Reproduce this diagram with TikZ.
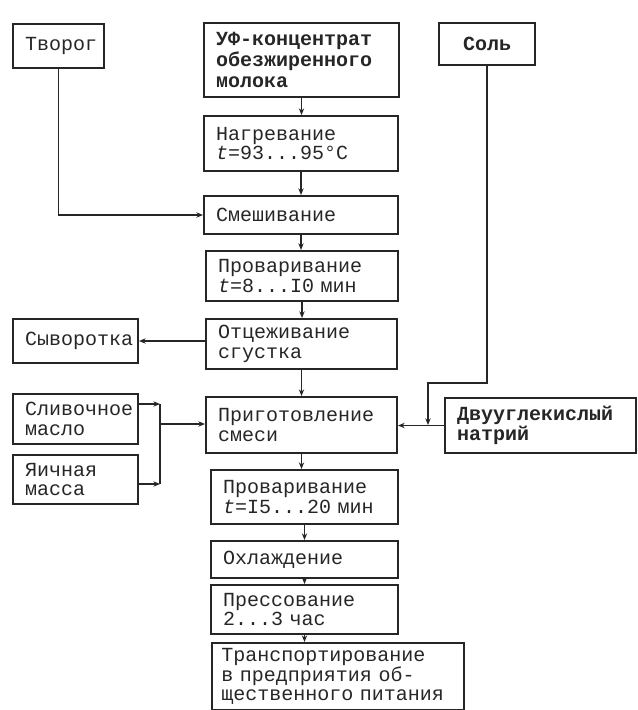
\documentclass[tikz,border=0pt]{standalone}
\usepackage{fontspec}
\usepackage{tikz}
\usetikzlibrary{arrows.meta}
\newfontfamily\tw{Liberation Mono}

\begin{document}
\begin{tikzpicture}[x=0.75pt,y=0.75pt,yscale=-1,xscale=1,
  blk/.style={draw=black!85, line width=1.5pt, anchor=north west, align=left,
    inner xsep=9pt, inner ysep=1pt, text=black!85,
    font=\tw\fontsize{15}{14.5}\selectfont},
  flw/.style={draw=black!85, line width=1pt, -{Stealth[length=5pt,width=4pt]}},
  lin/.style={draw=black!85, line width=1pt}]
\useasboundingbox (0,0) rectangle (637,710);

%Shape: Rectangle [inputs, left]
\node [blk, text width=50.25pt, minimum height=33pt] (tvorog) at (12,23) {Творог};
\node [blk, text width=75.75pt, minimum height=33pt] (syv) at (12,318) {Сыворотка};
\node [blk, text width=75.75pt, minimum height=37.5pt] (sliv) at (12,393) {Сливочное\\масло};
\node [blk, text width=75.75pt, minimum height=36.75pt] (yaich) at (12,454) {Яичная\\масса};

%Shape: Rectangle [inputs, right]
\node [blk, text width=54pt, minimum height=31.5pt, align=center, font=\tw\bfseries\fontsize{15}{14.5}\selectfont] (sol) at (438,22) {Соль};
\node [blk, text width=125.25pt, minimum height=41.25pt, font=\tw\bfseries\fontsize{15}{14.5}\selectfont] (dvu) at (444,397) {Двууглекислый\\натрий};

%Shape: Rectangle [main line]
\node [blk, text width=128.25pt, minimum height=55.5pt, font=\tw\bfseries\fontsize{15}{15.5}\selectfont] (uf) at (203,22) {УФ-концентрат\\обезжиренного\\молока};
\node [blk, text width=127.5pt, minimum height=41.25pt] (nagrev) at (203,115) {Нагревание\\\textit{t}=93...95°C};
\node [blk, text width=127.5pt, minimum height=28.5pt] (smesh) at (203,195) {Смешивание};
\node [blk, text width=126pt, minimum height=37.5pt] (provar) at (205,250) {Проваривание\\\textit{t}=8...I0 мин};
\node [blk, text width=125.25pt, minimum height=37.5pt] (otc) at (205,318) {Отцеживание\\сгустка};
\node [blk, text width=125.25pt, minimum height=42pt] (prig) at (205,396) {Приготовление\\смеси};
\node [blk, text width=122.25pt, minimum height=40.5pt] (provarb) at (210,469) {Проваривание\\\textit{t}=I5...20 мин};
\node [blk, text width=122.25pt, minimum height=27.75pt] (ohl) at (210,540) {Охлаждение};
\node [blk, text width=122.25pt, minimum height=36.75pt] (press) at (210,584) {Прессование\\2...3 час};
\node [blk, text width=175pt, inner xsep=7pt, minimum height=50.25pt] (transp) at (211,642) {Транспортирование\\в предприятия об-\\щественного питания};

%Straight Lines [main line]
\foreach \a/\b in {uf/nagrev,nagrev/smesh,smesh/provar,provar/otc,otc/prig,prig/provarb,provarb/ohl,ohl/press,press/transp}
  \draw [flw] (\a.south) -- (\a.south |- \b.north);

%Straight Lines [side inputs]
\coordinate (jtop) at (160,404);
\coordinate (jbot) at (160,484);
\coordinate (jmid) at (160,424);
\coordinate (sbend) at (428,383);
\draw [flw] (tvorog.south) |- (smesh.west);
\draw [flw] (otc.west |- syv.east) -- (syv.east);
\draw [flw] (sliv.east |- jtop) -- (jtop);
\draw [flw] (yaich.east |- jbot) -- (jbot);
\draw [lin] (jtop) -- (jbot);
\draw [flw] (jmid) -- (jmid -| prig.west);
\draw [flw] (sol.south) |- (sbend) -- (sbend |- prig.east);
\draw [flw] (dvu.west) -- (dvu.west -| prig.east);

\end{tikzpicture}
\end{document}
